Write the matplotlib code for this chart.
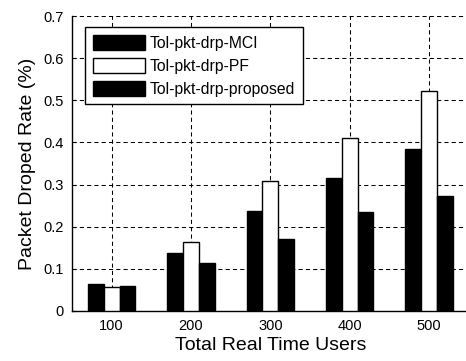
import matplotlib
matplotlib.use("Agg")
import matplotlib.pyplot as plt
import numpy as np

plt.rcParams['font.family'] = ['Liberation Sans', 'DejaVu Sans']

categories = ['100', '200', '300', '400', '500']
mci = [0.063, 0.137, 0.238, 0.315, 0.384]
pf = [0.056, 0.164, 0.308, 0.410, 0.523]
proposed = [0.060, 0.113, 0.170, 0.235, 0.274]
series_labels = ['Tol-pkt-drp-MCI', 'Tol-pkt-drp-PF', 'Tol-pkt-drp-proposed']
yticks = [0, 0.1, 0.2, 0.3, 0.4, 0.5, 0.6, 0.7]

W, H = 466, 361
fig = plt.figure(figsize=(W / 100, H / 100), dpi=100)
L, R, T, B = 72, 468.7, 16, 311
ax = fig.add_axes([L / W, 1 - B / H, (R - L) / W, (B - T) / H])

x = np.arange(1, len(categories) + 1)
bw = 0.2
colors = ['black', 'white', 'black']
for i, (vals, c, lab) in enumerate(zip([mci, pf, proposed], colors, series_labels)):
    ax.bar(x + (i - 1) * bw, vals, width=bw, color=c, edgecolor='black',
           linewidth=1.0, label=lab, zorder=3)

ax.set_xlim(0.5, 5.5)
ax.set_ylim(0, 0.7)
ax.set_xticks(x)
ax.set_xticklabels(categories)
ax.set_yticks(yticks)
ax.set_yticklabels(['0'] + [f'{v:.1f}' for v in yticks[1:]])
ax.grid(True, linestyle=(0, (4, 3)), color='black', linewidth=0.75, zorder=0)
ax.spines['top'].set_visible(False)
ax.spines['right'].set_visible(False)
ax.spines['left'].set_linewidth(1.0)
ax.spines['bottom'].set_linewidth(1.0)
ax.tick_params(direction='in', length=3, labelsize=10.5, pad=6)

ax.set_xlabel('Total Real Time Users', fontsize=14, labelpad=3)
ax.set_ylabel('Packet Droped Rate (%)', fontsize=14, labelpad=5)

leg = ax.legend(loc='upper left', bbox_to_anchor=((85 - L) / (R - L), (B - 27) / (B - T)),
                fontsize=11.3, frameon=True, fancybox=False, framealpha=1,
                edgecolor='black', handlelength=3.3, handleheight=1.1,
                handletextpad=0.32, labelspacing=0.45, borderpad=0.5, borderaxespad=0)
leg.get_frame().set_linewidth(1.0)
leg.set_zorder(5)

fig.savefig('out.png', dpi=100)
